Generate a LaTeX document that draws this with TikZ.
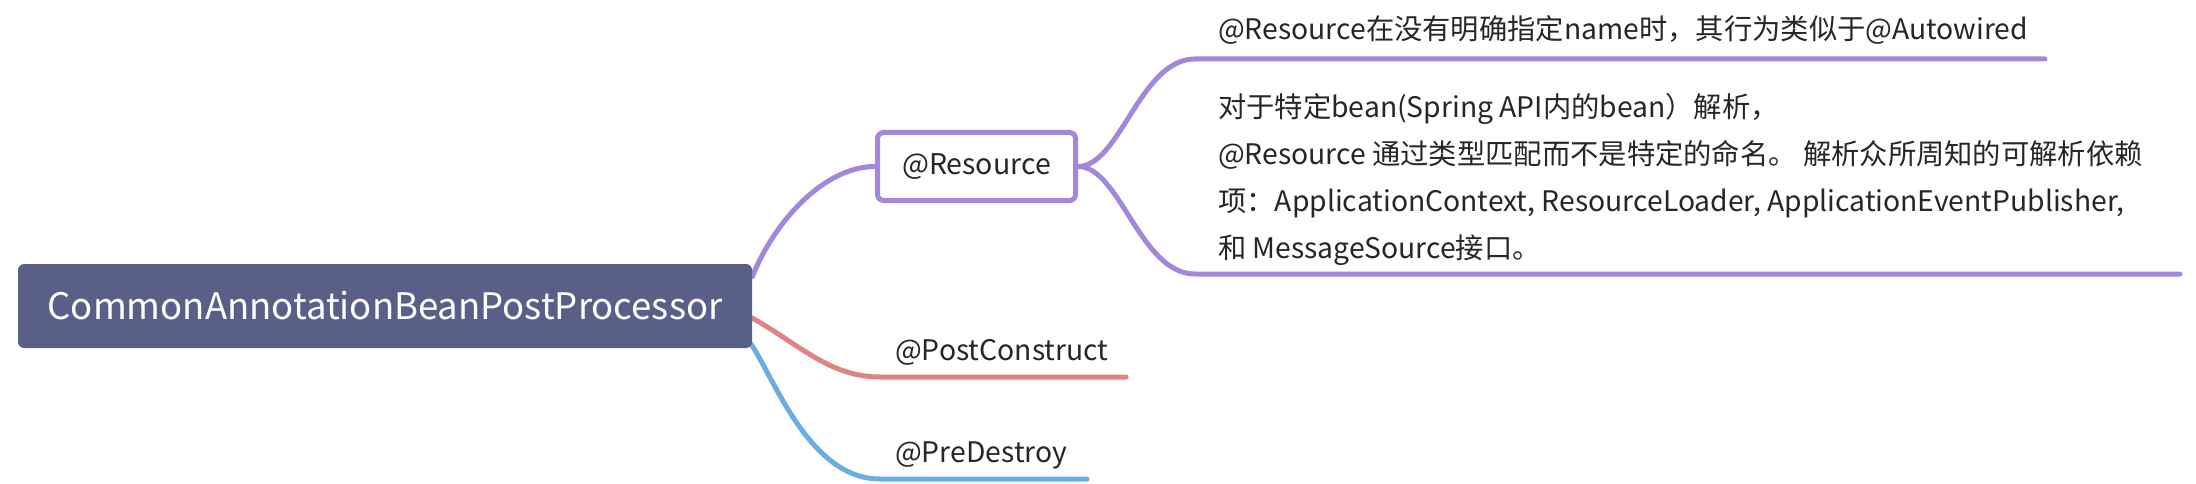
\documentclass[tikz,border=0pt]{standalone}
\usepackage{fontspec}
\setmainfont{Noto Sans CJK SC}
\usetikzlibrary{calc,backgrounds}
\definecolor{rootfill}{RGB}{89,96,135}
\definecolor{lpurple}{RGB}{162,135,219}
\definecolor{lred}{RGB}{224,131,131}
\definecolor{lblue}{RGB}{106,174,225}
\definecolor{txt}{RGB}{38,38,38}
\begin{document}
\begin{tikzpicture}[x=1pt,y=-1pt,
  rootbox/.style={fill=rootfill, rounded corners=6pt, minimum width=734pt, minimum height=84pt, inner sep=0pt, text=white, font=\fontsize{36.5}{44}\selectfont},
  subbox/.style={draw=lpurple, line width=5pt, fill=white, rounded corners=6pt, minimum width=198pt, minimum height=68pt, inner sep=0pt, text=txt, font=\fontsize{28.5}{34}\selectfont},
  lbl/.style={inner sep=0pt, anchor=base west, text=txt, font=\fontsize{28.3}{34}\selectfont},
  branch/.style={line width=5pt, line cap=round}
]
\useasboundingbox (0,0) rectangle (2196,484);
\node[rootbox] (root) at (385,306) {CommonAnnotationBeanPostProcessor};
\node[subbox] (res) at (976.5,166.5) {@Resource};
\node[lbl] (pc) at (895,360) {@PostConstruct};
\node[lbl] (pd) at (895,462) {@PreDestroy};
\node[lbl] (r1) at (1218,40) {@Resource在没有明确指定name时，其行为类似于@Autowired};
\node[lbl] (d1) at (1218,117.5) {对于特定bean(Spring API内的bean）解析，};
\node[lbl] (d2) at (1218,164.5) {@Resource 通过类型匹配而不是特定的命名。 解析众所周知的可解析依赖};
\node[lbl] (d3) at (1218,211.5) {项：ApplicationContext, ResourceLoader, ApplicationEventPublisher,};
\node[lbl] (d4) at (1218,258.5) {和 MessageSource接口。};
\coordinate (pcL) at (880,377); \coordinate (pcR) at (1126,377);
\coordinate (pdL) at (880,479); \coordinate (pdR) at (1087,479);
\coordinate (r1L) at (1195,59); \coordinate (r1R) at (2045,59);
\coordinate (dL) at (1195,274); \coordinate (dR) at (2180,274);
\begin{scope}[on background layer]
\draw[branch, draw=lpurple] ($(root.north east)+(0,13)$) .. controls (775,220) and (825,166.5) .. (res.west);
\draw[branch, draw=lred] ($(root.east)+(0,12)$) .. controls (800,345) and (830,377) .. (pcL) -- (pcR);
\draw[branch, draw=lblue] ($(root.south east)+(-1,-4)$) .. controls (775,380) and (810,479) .. (pdL) -- (pdR);
\draw[branch, draw=lpurple] (res.east) .. controls (1120,166.5) and (1140,59) .. (r1L) -- (r1R);
\draw[branch, draw=lpurple] (res.east) .. controls (1120,166.5) and (1140,274) .. (dL) -- (dR);
\end{scope}
\end{tikzpicture}
\end{document}
